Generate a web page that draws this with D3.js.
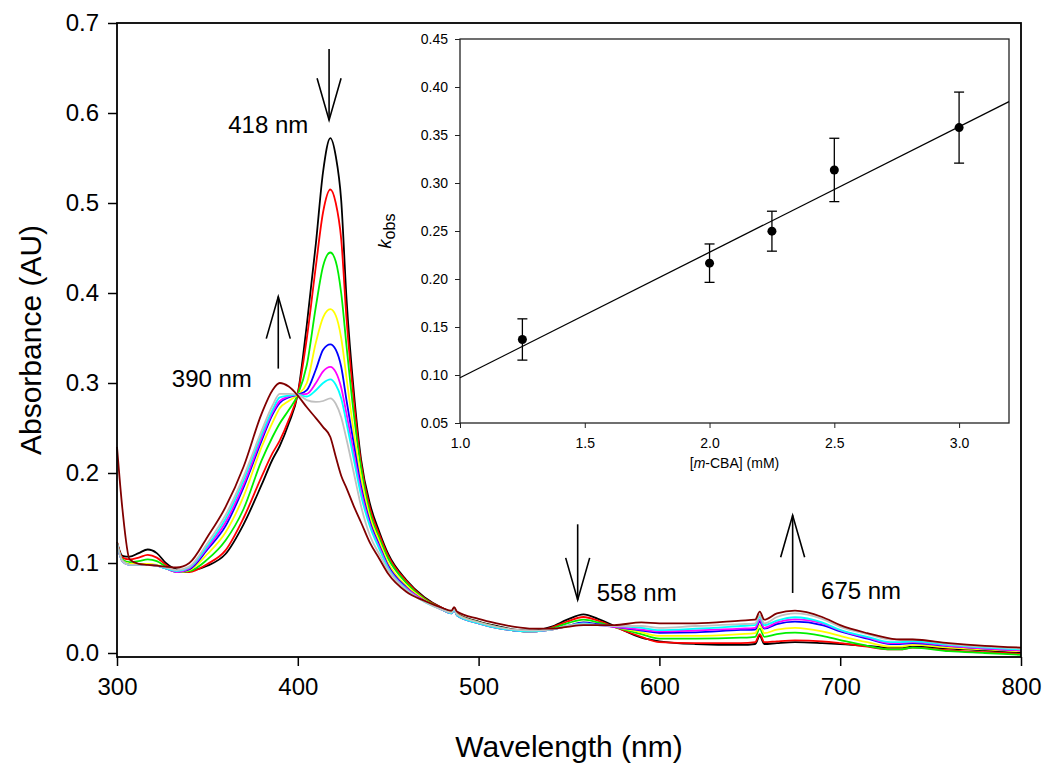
<!DOCTYPE html>
<html>
<head>
<meta charset="utf-8">
<script src="https://cdn.jsdelivr.net/npm/d3@7"></script>
<style>
  html, body { margin: 0; padding: 0; background: #fff; }
  svg { display: block; font-family: "Liberation Sans", Arial, sans-serif; }
</style>
</head>
<body>
<svg id="chart" width="1050" height="771"></svg>
<script>
// ---------------- DATA ----------------
const wavelengths = [300, 303, 307, 312, 317, 322, 327, 333, 340,
  350, 360, 370, 380, 386, 390, 395, 400,
  405, 410, 414, 418, 421, 424, 427, 431, 435, 440,
  445, 450, 460, 470, 480, 485, 486.5, 488,
  500, 510, 520, 530, 540, 549, 558, 566, 575,
  590, 600, 620, 645, 653, 655.5, 658, 665, 675,
  690, 700, 715, 728, 733, 740, 760, 780, 800];

const seriesNames = ["t0", "t1", "t2", "t3", "t4", "t5", "t6", "t7", "t8"];
const seriesColors = ["#000000", "#ff0000", "#00ee00", "#ffff00", "#0000ff", "#ff00ff", "#00ffff", "#c0c0c0", "#800000"];

const absBlack = [0.123, 0.108, 0.107, 0.111, 0.115, 0.111, 0.100, 0.093, 0.092,
  0.097, 0.110, 0.143, 0.187, 0.215, 0.230, 0.255, 0.288,
  0.365, 0.455, 0.535, 0.572, 0.552, 0.503, 0.392, 0.290, 0.215, 0.165,
  0.135, 0.110, 0.081, 0.062, 0.050, 0.046, 0.050, 0.044,
  0.035, 0.030, 0.026, 0.025, 0.029, 0.037, 0.043, 0.038, 0.030,
  0.017, 0.013, 0.010, 0.009, 0.010, 0.019, 0.010, 0.011, 0.012,
  0.011, 0.010, 0.008, 0.006, 0.006, 0.007, 0.005, 0.003, 0.000];
const absRed = [0.123, 0.106, 0.104, 0.106, 0.109, 0.106, 0.098, 0.091, 0.090,
  0.099, 0.114, 0.150, 0.196, 0.222, 0.236, 0.259, 0.288,
  0.350, 0.430, 0.490, 0.515, 0.500, 0.460, 0.370, 0.280, 0.210, 0.160,
  0.132, 0.108, 0.080, 0.061, 0.050, 0.046, 0.050, 0.044,
  0.034, 0.029, 0.025, 0.024, 0.028, 0.035, 0.040, 0.036, 0.029,
  0.018, 0.012, 0.011, 0.011, 0.012, 0.021, 0.012, 0.013, 0.014,
  0.013, 0.011, 0.007, 0.004, 0.004, 0.006, 0.003, 0.001, -0.001];
const absGreen = [0.119, 0.104, 0.101, 0.102, 0.104, 0.102, 0.096, 0.090, 0.091,
  0.104, 0.125, 0.160, 0.214, 0.240, 0.255, 0.270, 0.287,
  0.320, 0.385, 0.430, 0.445, 0.435, 0.400, 0.340, 0.265, 0.205, 0.155,
  0.128, 0.105, 0.078, 0.060, 0.049, 0.045, 0.049, 0.043,
  0.034, 0.029, 0.025, 0.024, 0.027, 0.033, 0.037, 0.034, 0.029,
  0.021, 0.016, 0.016, 0.017, 0.018, 0.027, 0.018, 0.021, 0.0226,
  0.019, 0.0144, 0.008, 0.004, 0.004, 0.006, 0.002, 0.000, -0.002];
const absYellow = [0.122, 0.103, 0.099, 0.099, 0.099, 0.098, 0.094, 0.090, 0.092,
  0.110, 0.134, 0.174, 0.229, 0.256, 0.272, 0.280, 0.287,
  0.300, 0.345, 0.373, 0.382, 0.375, 0.350, 0.305, 0.245, 0.195, 0.150,
  0.124, 0.100, 0.075, 0.059, 0.048, 0.044, 0.048, 0.042,
  0.033, 0.028, 0.025, 0.024, 0.026, 0.030, 0.034, 0.032, 0.029,
  0.023, 0.019, 0.019, 0.021, 0.022, 0.031, 0.022, 0.026, 0.028,
  0.024, 0.019, 0.012, 0.007, 0.007, 0.009, 0.006, 0.004, 0.002];
const absBlue = [0.121, 0.102, 0.098, 0.098, 0.098, 0.097, 0.094, 0.090, 0.093,
  0.115, 0.141, 0.184, 0.236, 0.265, 0.278, 0.284, 0.287,
  0.292, 0.315, 0.337, 0.343, 0.337, 0.318, 0.280, 0.232, 0.185, 0.145,
  0.120, 0.097, 0.073, 0.058, 0.048, 0.044, 0.048, 0.042,
  0.033, 0.028, 0.025, 0.024, 0.026, 0.030, 0.034, 0.032, 0.029,
  0.025, 0.0225, 0.023, 0.0256, 0.026, 0.035, 0.027, 0.032, 0.0348,
  0.031, 0.024, 0.016, 0.010, 0.010, 0.011, 0.0078, 0.005, 0.003];
const absMagenta = [0.121, 0.102, 0.098, 0.098, 0.098, 0.097, 0.094, 0.090, 0.094,
  0.117, 0.145, 0.187, 0.239, 0.267, 0.280, 0.285, 0.287,
  0.288, 0.300, 0.313, 0.318, 0.312, 0.295, 0.265, 0.222, 0.180, 0.142,
  0.118, 0.095, 0.072, 0.058, 0.048, 0.044, 0.048, 0.042,
  0.033, 0.028, 0.025, 0.024, 0.026, 0.030, 0.033, 0.031, 0.029,
  0.026, 0.024, 0.025, 0.027, 0.028, 0.037, 0.028, 0.034, 0.0374,
  0.033, 0.025, 0.017, 0.011, 0.011, 0.012, 0.008, 0.005, 0.003];
const absCyan = [0.122, 0.102, 0.098, 0.098, 0.098, 0.097, 0.094, 0.091, 0.095,
  0.119, 0.149, 0.192, 0.243, 0.270, 0.284, 0.286, 0.287,
  0.285, 0.292, 0.300, 0.304, 0.298, 0.283, 0.255, 0.215, 0.175, 0.140,
  0.116, 0.094, 0.071, 0.057, 0.048, 0.044, 0.048, 0.042,
  0.033, 0.028, 0.025, 0.024, 0.026, 0.030, 0.033, 0.031, 0.030,
  0.028, 0.0255, 0.027, 0.030, 0.031, 0.040, 0.031, 0.036, 0.0397,
  0.034, 0.0256, 0.018, 0.012, 0.012, 0.013, 0.009, 0.006, 0.004];
const absGray = [0.122, 0.102, 0.098, 0.098, 0.098, 0.097, 0.095, 0.092, 0.096,
  0.122, 0.153, 0.196, 0.247, 0.275, 0.288, 0.288, 0.287,
  0.281, 0.279, 0.280, 0.283, 0.277, 0.262, 0.237, 0.200, 0.163, 0.130,
  0.110, 0.092, 0.070, 0.057, 0.048, 0.045, 0.049, 0.043,
  0.034, 0.029, 0.026, 0.025, 0.026, 0.030, 0.032, 0.031, 0.030,
  0.030, 0.028, 0.030, 0.032, 0.033, 0.042, 0.033, 0.040, 0.044,
  0.038, 0.029, 0.021, 0.015, 0.015, 0.015, 0.010, 0.007, 0.005];
const absBrown = [0.229, 0.160, 0.104, 0.099, 0.098, 0.097, 0.096, 0.095, 0.100,
  0.129, 0.162, 0.207, 0.266, 0.292, 0.300, 0.296, 0.286,
  0.273, 0.261, 0.251, 0.240, 0.218, 0.197, 0.183, 0.163, 0.145, 0.122,
  0.105, 0.088, 0.068, 0.058, 0.050, 0.047, 0.051, 0.046,
  0.038, 0.033, 0.029, 0.027, 0.027, 0.029, 0.031, 0.031, 0.031,
  0.034, 0.033, 0.033, 0.036, 0.037, 0.046, 0.037, 0.044, 0.047,
  0.040, 0.031, 0.022, 0.016, 0.015, 0.015, 0.011, 0.008, 0.006];

const seriesValues = [absBlack, absRed, absGreen, absYellow, absBlue, absMagenta, absCyan, absGray, absBrown];

const xTicksMain = [300, 400, 500, 600, 700, 800];
const yTicksMain = [0.0, 0.1, 0.2, 0.3, 0.4, 0.5, 0.6, 0.7];

// annotations: label, arrow x (nm), arrow start/end absorbance, text anchor (nm, absorbance)
const annLabels = ["418 nm", "390 nm", "558 nm", "675 nm"];
const annArrowX = [417.3, 389.2, 554.8, 673.7];
const annArrowFrom = [0.671, 0.316, 0.143, 0.0667];
const annArrowTo = [0.592, 0.396, 0.059, 0.153];
const annTextX = [361.5, 330.3, 565.3, 689.4];
const annTextY = [0.578, 0.296, 0.058, 0.0597];

// inset
const insetConc = [1.25, 2.0, 2.25, 2.5, 3.0];
const insetKobs = [0.137, 0.2165, 0.2498, 0.3136, 0.3577];
const insetErr = [0.0215, 0.020, 0.0208, 0.033, 0.037];
const insetFitX = [1.0, 3.2];
const insetFitY = [0.0971, 0.3848];
const insetXTicks = [1.0, 1.5, 2.0, 2.5, 3.0];
const insetYTicks = [0.05, 0.10, 0.15, 0.20, 0.25, 0.30, 0.35, 0.40, 0.45];

// ---------------- DRAW ----------------
const svg = d3.select("#chart");
const FONT = '"Liberation Sans", Arial, sans-serif';

const x = d3.scaleLinear().domain([300, 800]).range([117, 1021]);
const y = d3.scaleLinear().domain([0, 0.7]).range([653, 23]);
const axisY0 = 657;

// spectra
const lineGen = d3.line()
  .x(d => x(d[0]))
  .y(d => y(d[1]))
  .curve(d3.curveMonotoneX);

const gCurves = svg.append("g");
seriesValues.forEach((vals, i) => {
  const pts = wavelengths.map((w, k) => [w, vals[k]]);
  gCurves.append("path")
    .datum(pts)
    .attr("d", lineGen)
    .attr("fill", "none")
    .attr("stroke", seriesColors[i])
    .attr("stroke-width", 1.8)
    .attr("stroke-linejoin", "round");
});

// frame
svg.append("rect")
  .attr("x", x(300)).attr("y", y(0.7))
  .attr("width", x(800) - x(300)).attr("height", axisY0 - y(0.7))
  .attr("fill", "none").attr("stroke", "#000").attr("stroke-width", 1.8);

// x axis
const xAxis = svg.append("g")
  .attr("transform", `translate(0,${axisY0})`)
  .call(d3.axisBottom(x).tickValues(xTicksMain).tickSize(9).tickSizeOuter(0).tickPadding(12).tickFormat(d3.format("d")));
xAxis.select(".domain").remove();
xAxis.selectAll(".tick line").attr("stroke", "#000").attr("stroke-width", 1.5);
xAxis.selectAll(".tick text").attr("font-size", 24).attr("font-family", FONT).attr("fill", "#000");

// y axis
const yAxis = svg.append("g")
  .attr("transform", `translate(${x(300)},0)`)
  .call(d3.axisLeft(y).tickValues(yTicksMain).tickSize(9).tickSizeOuter(0).tickPadding(9).tickFormat(d3.format(".1f")));
yAxis.select(".domain").remove();
yAxis.selectAll(".tick line").attr("stroke", "#000").attr("stroke-width", 1.5);
yAxis.selectAll(".tick text").attr("font-size", 24).attr("font-family", FONT).attr("fill", "#000");

// axis titles
svg.append("text")
  .attr("x", (x(300) + x(800)) / 2).attr("y", 757)
  .attr("text-anchor", "middle").attr("font-size", 30).attr("font-family", FONT)
  .text("Wavelength (nm)");
svg.append("text")
  .attr("transform", `translate(41,${(y(0.7) + axisY0) / 2}) rotate(-90)`)
  .attr("text-anchor", "middle").attr("font-size", 30).attr("font-family", FONT)
  .text("Absorbance (AU)");

// annotations
const headHalf = 12, headLen = 42;
annLabels.forEach((lab, i) => {
  const ax = x(annArrowX[i]);
  const y1 = y(annArrowFrom[i]);
  const y2 = y(annArrowTo[i]);
  const dir = y2 > y1 ? 1 : -1;
  const g = svg.append("g").attr("stroke", "#000").attr("stroke-width", 1.6).attr("fill", "none");
  g.append("line").attr("x1", ax).attr("y1", y1).attr("x2", ax).attr("y2", y2);
  g.append("polyline")
    .attr("points", `${ax - headHalf},${y2 - dir * headLen} ${ax},${y2} ${ax + headHalf},${y2 - dir * headLen}`);
  svg.append("text")
    .attr("x", x(annTextX[i])).attr("y", y(annTextY[i]))
    .attr("font-size", 24).attr("font-family", FONT).attr("fill", "#000")
    .text(lab);
});

// ---------------- INSET ----------------
const ix = d3.scaleLinear().domain([1.0, 3.2]).range([460, 1009]);
const iy = d3.scaleLinear().domain([0.05, 0.45]).range([423, 39]);
const gi = svg.append("g");

gi.append("rect")
  .attr("x", ix(1.0)).attr("y", iy(0.45))
  .attr("width", ix(3.2) - ix(1.0)).attr("height", iy(0.05) - iy(0.45))
  .attr("fill", "#fff").attr("stroke", "#222").attr("stroke-width", 1.3);

const ixAxis = gi.append("g")
  .attr("transform", `translate(0,${iy(0.05)})`)
  .call(d3.axisBottom(ix).tickValues(insetXTicks).tickSize(5).tickSizeOuter(0).tickPadding(10).tickFormat(d3.format(".1f")));
ixAxis.select(".domain").remove();
ixAxis.selectAll(".tick line").attr("stroke", "#222");
ixAxis.selectAll(".tick text").attr("font-size", 14).attr("font-family", FONT).attr("fill", "#000");

const iyAxis = gi.append("g")
  .attr("transform", `translate(${ix(1.0)},0)`)
  .call(d3.axisLeft(iy).tickValues(insetYTicks).tickSize(5).tickSizeOuter(0).tickPadding(7).tickFormat(d3.format(".2f")));
iyAxis.select(".domain").remove();
iyAxis.selectAll(".tick line").attr("stroke", "#222");
iyAxis.selectAll(".tick text").attr("font-size", 14).attr("font-family", FONT).attr("fill", "#000");

// fit line
gi.append("line")
  .attr("x1", ix(insetFitX[0])).attr("y1", iy(insetFitY[0]))
  .attr("x2", ix(insetFitX[1])).attr("y2", iy(insetFitY[1]))
  .attr("stroke", "#000").attr("stroke-width", 1.3);

// error bars & points
const capW = 5;
insetConc.forEach((c, i) => {
  const cx = ix(c);
  const top = iy(insetKobs[i] + insetErr[i]);
  const bot = iy(insetKobs[i] - insetErr[i]);
  const g = gi.append("g").attr("stroke", "#000").attr("stroke-width", 1.3);
  g.append("line").attr("x1", cx).attr("x2", cx).attr("y1", top).attr("y2", bot);
  g.append("line").attr("x1", cx - capW).attr("x2", cx + capW).attr("y1", top).attr("y2", top);
  g.append("line").attr("x1", cx - capW).attr("x2", cx + capW).attr("y1", bot).attr("y2", bot);
  gi.append("circle").attr("cx", cx).attr("cy", iy(insetKobs[i])).attr("r", 4.5).attr("fill", "#000");
});

// inset axis labels
const kl = gi.append("text")
  .attr("transform", `translate(391,${(iy(0.05) + iy(0.45)) / 2}) rotate(-90)`)
  .attr("text-anchor", "middle").attr("font-family", FONT).attr("font-size", 18);
kl.append("tspan").attr("font-style", "italic").text("k");
kl.append("tspan").attr("font-size", 16).attr("dy", 4).text("obs");

const xl = gi.append("text")
  .attr("x", (ix(1.0) + ix(3.2)) / 2).attr("y", 468)
  .attr("text-anchor", "middle").attr("font-family", FONT).attr("font-size", 14);
xl.append("tspan").text("[");
xl.append("tspan").attr("font-style", "italic").text("m");
xl.append("tspan").text("-CBA] (mM)");
</script>
</body>
</html>
